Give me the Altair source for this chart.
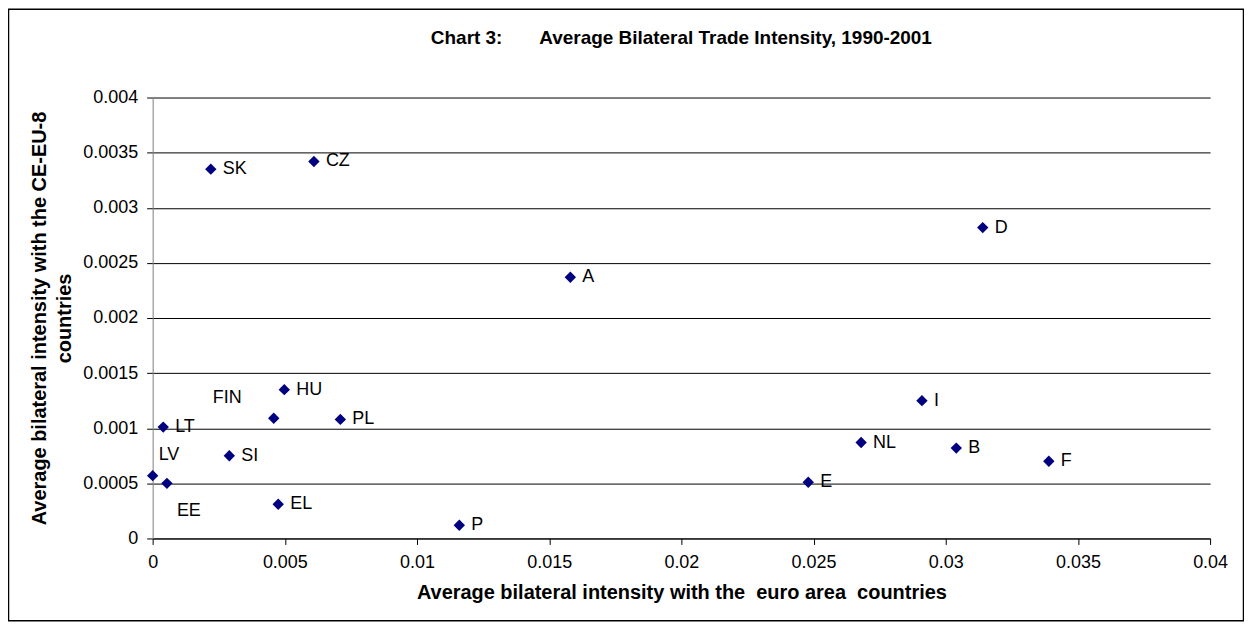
import altair as alt
import pandas as pd

countries = ["SK", "CZ", "A", "D", "HU", "FIN", "PL", "LT", "SI", "LV", "EE", "EL", "P",
             "I", "NL", "B", "F", "E"]
euro_area = [0.0022, 0.0061, 0.0158, 0.0314, 0.00498, 0.00458, 0.0071, 0.0004, 0.0029, 0.0,
             0.00054, 0.00475, 0.0116, 0.0291, 0.0268, 0.0304, 0.0339, 0.0248]
ce_eu8 = [0.00335, 0.00342, 0.00237, 0.00282, 0.00135, 0.00109, 0.00108, 0.00101, 0.00075,
          0.00057, 0.0005, 0.00031, 0.00012, 0.00125, 0.00087, 0.00082, 0.0007, 0.00051]

x_ticks = [0, 0.005, 0.01, 0.015, 0.02, 0.025, 0.03, 0.035, 0.04]
y_ticks = [0, 0.0005, 0.001, 0.0015, 0.002, 0.0025, 0.003, 0.0035, 0.004]

chart_title = "Chart 3:" + "\u00a0" * 7 + "Average Bilateral Trade Intensity, 1990-2001"
x_title = "Average bilateral intensity with the\u00a0 euro area\u00a0 countries"
y_title = ["Average bilateral intensity with the CE-EU-8", "countries"]

df = pd.DataFrame({"country": countries, "euro": euro_area, "ceeu": ce_eu8})

FONT = "Liberation Sans"

xenc = alt.X("euro:Q",
             scale=alt.Scale(domain=[0, 0.04], nice=False, zero=True),
             axis=alt.Axis(values=x_ticks, format="~g", title=x_title, grid=False,
                           domainColor="black", tickColor="black", tickSize=6,
                           labelPadding=9, labelFontSize=18, labelFont=FONT,
                           labelColor="black", titleFont=FONT, titleFontSize=20,
                           titleFontWeight="bold", titleColor="black", titleY=44,
                           titleBaseline="top", labelFlush=False))
yenc = alt.Y("ceeu:Q",
             scale=alt.Scale(domain=[0, 0.004], nice=False, zero=True),
             axis=alt.Axis(values=y_ticks, format="~g", title=y_title, grid=True,
                           gridColor="black", gridWidth=1, domainColor="#808080",
                           tickColor="black", tickSize=6, labelPadding=9,
                           labelFontSize=18, labelFont=FONT, labelColor="black",
                           titleFont=FONT, titleFontSize=20, titleFontWeight="bold",
                           titleColor="black", titleX=-123, titleY=221,
                           titleBaseline="top", titleLineHeight=25, titleAngle=270,
                           labelFlush=False))

base = alt.Chart(df)

points = base.mark_point(shape="diamond", filled=True, size=130, color="#000080",
                         opacity=1).encode(x=xenc, y=yenc)

labels_std = base.transform_filter(
    "indexof(['FIN','LV','EE'], datum.country) < 0"
).mark_text(align="left", baseline="middle", dx=12, fontSize=18, font=FONT,
            color="black").encode(x="euro:Q", y="ceeu:Q", text="country:N")

label_fin = base.transform_filter("datum.country == 'FIN'").mark_text(
    align="left", baseline="middle", dx=-61, dy=-20, fontSize=18, font=FONT,
    color="black").encode(x="euro:Q", y="ceeu:Q", text="country:N")

label_lv = base.transform_filter("datum.country == 'LV'").mark_text(
    align="left", baseline="middle", dx=6, dy=-21, fontSize=18, font=FONT,
    color="black").encode(x="euro:Q", y="ceeu:Q", text="country:N")

label_ee = base.transform_filter("datum.country == 'EE'").mark_text(
    align="left", baseline="middle", dx=10, dy=28, fontSize=18, font=FONT,
    color="black").encode(x="euro:Q", y="ceeu:Q", text="country:N")

one_row = pd.DataFrame({"title": [chart_title]})

frame = alt.Chart(one_row).mark_rect(
    filled=False, stroke="black", strokeWidth=1.5
).encode(x=alt.value(-144.5), x2=alt.value(1093.5), y=alt.value(-88.5), y2=alt.value(524.5))

title_text = alt.Chart(one_row).mark_text(
    align="center", baseline="middle", font=FONT, fontSize=19, fontWeight="bold",
    color="black"
).encode(x=alt.value(530), y=alt.value(-60), text="title:N")

chart = alt.layer(frame, title_text, points, labels_std, label_fin, label_lv,
                  label_ee).properties(
    width=1060, height=442,
    autosize=alt.AutoSizeParams(type="none"),
    padding={"left": 145, "top": 89, "right": 34, "bottom": 83},
    background="white",
).configure_view(strokeWidth=0)

chart.save("out.html", embed_options={"renderer": "svg", "actions": False})
